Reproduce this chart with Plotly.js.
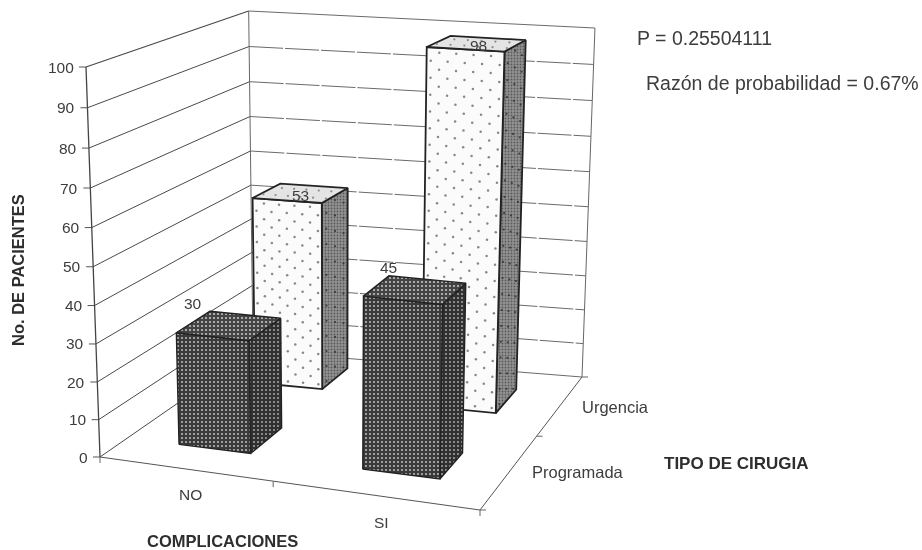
<!DOCTYPE html>
<html><head><meta charset="utf-8">
<script src="https://cdn.plot.ly/plotly-3.0.1.min.js"></script>
<style>html,body{margin:0;padding:0;background:#fff}#chart{width:922px;height:550px;filter:blur(0.6px)}</style>
</head><body><div id="chart"></div>
<script>
// ---- data ----
const complicaciones = ['NO', 'SI'];
const tiposCirugia = ['Programada', 'Urgencia'];
const programada = [30, 45];
const urgencia = [53, 98];
const yTicks = [0, 10, 20, 30, 40, 50, 60, 70, 80, 90, 100];

// ---- scene geometry (unit floor square + height) ----
const floorFL = [100, 457], floorFR = [480, 510], floorBR = [582, 377], floorBL = [253, 351];
const heightCorners = {FL: 390, FR: 410, BR: 349, BL: 340};
const vanishX = 337, vanishD = 6600, zWarp = 0.05;
const fp = { // footprints on the floor per (complication, surgery type)
  NO: {Programada: {u: [.160, .370], v: [.155, .360]}, Urgencia: {u: [.140, .353], v: [.700, .905]}},
  SI: {Programada: {u: [.675, .865], v: [.147, .330]}, Urgencia: {u: [.665, .862], v: [.640, .845]}}
};

function homography(p0, p1, p2, p3) {
  const dx1 = p1[0]-p2[0], dx2 = p3[0]-p2[0], sx = p0[0]-p1[0]+p2[0]-p3[0];
  const dy1 = p1[1]-p2[1], dy2 = p3[1]-p2[1], sy = p0[1]-p1[1]+p2[1]-p3[1];
  const det = dx1*dy2-dx2*dy1;
  const g = (sx*dy2-dx2*sy)/det, h = (dx1*sy-sx*dy1)/det;
  const a = p1[0]-p0[0]+g*p1[0], b = p3[0]-p0[0]+h*p3[0], c = p0[0];
  const d = p1[1]-p0[1]+g*p1[1], e = p3[1]-p0[1]+h*p3[1], f = p0[1];
  return (u, v) => { const w = g*u+h*v+1; return [(a*u+b*v+c)/w, (d*u+e*v+f)/w]; };
}
const floor = homography(floorFL, floorFR, floorBR, floorBL);
function project(u, v, value) {
  const t = value/100, warp = t/(1+zWarp*(1-t));
  const H = (1-v)*((1-u)*heightCorners.FL+u*heightCorners.FR) + v*((1-u)*heightCorners.BL+u*heightCorners.BR);
  const p = floor(u, v), hpx = H*warp;
  return [p[0]+(p[0]-vanishX)*hpx/vanishD, p[1]-hpx];
}

const traces = [];
function line(pts, color, width, dash) {
  traces.push({type:'scatter', mode:'lines', x:pts.map(p=>p[0]), y:pts.map(p=>p[1]),
    line:{color, width, dash:dash||'solid'}, hoverinfo:'skip', showlegend:false});
}
function face(pts, style) {
  const c = pts.concat([pts[0]]);
  const t = {type:'scatter', mode:'lines', x:c.map(p=>p[0]), y:c.map(p=>p[1]), fill:'toself',
    fillcolor:style.fill, line:{color:style.edge, width:style.width}, hoverinfo:'skip', showlegend:false};
  if (style.pattern) t.fillpattern = style.pattern;
  traces.push(t);
}
function dots(ptsFn, n1, n2, color, size) {
  const xs = [], ys = [];
  for (let i = 0; i <= n2; i++) for (let j = 0; j <= n1; j++) {
    const a = (j+(i%2 ? .75 : .25))/(n1+.5), b = (i+.6)/(n2+1.2);
    if (a > .98) continue;
    const p = ptsFn(a, b); xs.push(p[0]); ys.push(p[1]);
  }
  traces.push({type:'scatter', mode:'markers', x:xs, y:ys, marker:{color, size, line:{width:0}},
    hoverinfo:'skip', showlegend:false});
}

// walls
yTicks.forEach(z => {
  const isTop = z === 100;
  line([project(0,0,z), project(0,1,z)], '#4a4a4a', isTop ? 1.3 : 1);
  line([project(0,1,z), project(1,1,z)], '#6a6a6a', 1, z===0||isTop ? 'solid' : '34px,2px');
  const p = project(0,0,z);
  line([[p[0]-7,p[1]], p], '#555', 1);
});
line([project(0,0,0), project(0,0,100)], '#444', 1.3);
line([project(0,1,0), project(0,1,100)], '#666', 1);
line([project(1,1,0), project(1,1,100)], '#666', 1);
line([project(0,0,0), project(1,0,0)], '#555', 1);
line([project(1,0,0), project(1,1,0)], '#555', 1);
[[0,0],[.5,0],[1,0]].forEach(q => { const p = project(q[0],q[1],0); line([p,[p[0],p[1]+6]], '#666', 1); });
[[1,0],[1,.5],[1,1]].forEach(q => { const p = project(q[0],q[1],0); line([p,[p[0]+6,p[1]]], '#666', 1); });

const darkFront = {fill:'#333', edge:'#222', width:1.4, pattern:{shape:'.', size:4, solidity:.2, fgcolor:'#c0c0c0', bgcolor:'#3a3a3a', fillmode:'replace'}};
const darkSide  = {fill:'#333', edge:'#222', width:1.4, pattern:{shape:'.', size:4, solidity:.17, fgcolor:'#b0b0b0', bgcolor:'#303030', fillmode:'replace'}};
const darkTop   = {fill:'#333', edge:'#222', width:1.4, pattern:{shape:'.', size:4, solidity:.22, fgcolor:'#c4c4c4', bgcolor:'#444', fillmode:'replace'}};
const lightFront = {fill:'#fbfbfb', edge:'#222', width:1.8};
const lightTop   = {fill:'#e4e4e4', edge:'#222', width:1.8};
const lightSide  = {fill:'#888', edge:'#222', width:1.8, pattern:{shape:'.', size:3, solidity:.3, fgcolor:'#5a5a5a', bgcolor:'#929292', fillmode:'replace'}};

function bar(c, s, val, dark) {
  const f = fp[c][s], [u0,u1] = f.u, [v0,v1] = f.v;
  const front = (a,b) => project(u0+a*(u1-u0), v0, b*val);
  face([project(u1,v0,0), project(u1,v1,0), project(u1,v1,val), project(u1,v0,val)], dark ? darkSide : lightSide);
  if (!dark) dots((a,b) => project(u1, v0+a*(v1-v0), b*val), 1, Math.round(val*.44), '#3c3c3c', 2.2);
  face([project(u0,v0,0), project(u1,v0,0), project(u1,v0,val), project(u0,v0,val)], dark ? darkFront : lightFront);
  if (!dark) dots(front, 4, Math.round(val*.44), '#888', 2.5);
  face([project(u0,v0,val), project(u1,v0,val), project(u1,v1,val), project(u0,v1,val)], dark ? darkTop : lightTop);
  if (!dark) dots((a,b) => project(u0+a*(u1-u0), v0+b*(v1-v0), val), 5, 1, '#8a8a8a', 2.2);
}
complicaciones.forEach((c,i) => bar(c, tiposCirugia[1], urgencia[i], false));
complicaciones.forEach((c,i) => bar(c, tiposCirugia[0], programada[i], true));

// text
const ink = '#3d3d3d', sans = 'Liberation Sans, Arial, sans-serif';
function label(x, y, text, size, opt) {
  return Object.assign({x, y, xref:'x', yref:'y', text, showarrow:false, xanchor:'center', yanchor:'middle',
    font:{family:sans, size, color:ink}}, opt||{});
}
const bold = size => ({font:{family:sans, size, color:'#2e2e2e'}});
const ann = [];
yTicks.forEach(z => { const p = project(0,0,z); ann.push(label(p[0]-10, p[1], String(z), 15.5, {xanchor:'right'})); });
ann.push(label(190, 494, complicaciones[0], 15.5));
ann.push(label(381, 522, complicaciones[1], 15.5));
ann.push(label(222, 541, '<b>COMPLICACIONES</b>', 16.5, bold(16.5)));
ann.push(label(18, 270, '<b>No. DE PACIENTES</b>', 16.5, Object.assign({textangle:-90}, bold(16.5))));
ann.push(label(736, 463, '<b>TIPO DE CIRUGIA</b>', 17, bold(17)));
ann.push(label(615, 407, tiposCirugia[1], 16.5));
ann.push(label(578, 472, tiposCirugia[0], 16.5));
ann.push(label(635, 38, 'P = 0.25504111', 19.5, {xanchor:'left'}));
ann.push(label(644, 83, 'Razón de probabilidad = 0.67%', 19.5, {xanchor:'left'}));
ann.push(label(300, 195, String(urgencia[0]), 15.5));
ann.push(label(478, 45, String(urgencia[1]), 15.5));
ann.push(label(193, 303, String(programada[0]), 15.5));
ann.push(label(388, 267, String(programada[1]), 15.5));

Plotly.newPlot('chart', traces, {
  width:922, height:550, margin:{l:0,r:0,t:0,b:0}, showlegend:false,
  paper_bgcolor:'#fff', plot_bgcolor:'#fff', hovermode:false,
  xaxis:{range:[0,922], visible:false, fixedrange:true},
  yaxis:{range:[550,0], visible:false, fixedrange:true},
  annotations:ann
}, {displayModeBar:false, staticPlot:true});
</script></body></html>
